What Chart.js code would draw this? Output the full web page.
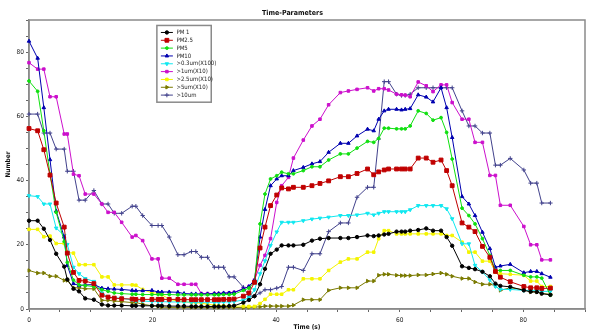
<!DOCTYPE html>
<html>
<head>
<meta charset="utf-8">
<script src="https://cdn.jsdelivr.net/npm/chart.js@4.4.1/dist/chart.umd.min.js"></script>
<style>
  html, body { margin: 0; padding: 0; background: #fff; }
  canvas { display: block; }
</style>
</head>
<body>
<canvas id="myChart" width="592" height="331"></canvas>
<script>
// sample times (s)
var times = [0, 1.4, 2.4, 3.4, 4.4, 5.7, 6.2, 7.2, 8.1, 9.1, 10.5, 11.8, 12.8, 13.8, 15.0, 16.7, 17.3, 18.4, 19.9, 20.9,
  21.5, 22.7, 24.1, 25.1, 26.3, 27.0, 27.9, 28.9, 30.0, 30.7, 31.5, 32.4, 33.2, 34.7, 35.6, 36.5, 37.4, 38.2, 39.1, 40.1,
  40.9, 42.0, 42.8, 44.4, 45.8, 47.1, 48.5, 50.4, 51.7, 53.1, 54.8, 55.8, 56.6, 57.5, 58.2, 59.5, 60.3, 60.9, 61.7, 63.0,
  64.3, 65.4, 66.7, 67.6, 68.5, 70.1, 71.2, 72.2, 73.4, 74.6, 75.5, 76.3, 77.9, 80.1, 81.2, 82.2, 83.0, 84.4];

var pm1 = [27.5, 27.5, 25.0, 21.5, 17.2, 13.2, 9.2, 6.3, 5.5, 3.3, 2.9, 1.4, 1.1, 1.1, 1.1, 1.0, 1.0, 1.0, 1.0, 1.0,
  1.0, 0.9, 0.9, 0.9, 0.8, 0.8, 0.8, 0.8, 0.8, 0.8, 0.8, 0.9, 1.0, 2.0, 2.8, 4.0, 7.7, 12.5, 17.2, 18.5,
  19.8, 19.8, 19.8, 20.0, 21.3, 21.9, 22.1, 22.1, 22.1, 22.4, 22.9, 22.7, 22.9, 23.2, 23.4, 24.1, 24.1, 24.1, 24.4, 24.6,
  25.1, 24.4, 24.4, 22.4, 19.7, 13.3, 12.8, 12.4, 11.6, 10.2, 7.9, 7.2, 6.9, 5.8, 5.4, 5.3, 4.8, 4.4];

var pm25 = [56.2, 55.5, 49.6, 41.7, 33.0, 25.5, 17.4, 11.4, 8.9, 8.7, 7.9, 4.3, 3.7, 3.4, 3.2, 3.1, 3.0, 3.0, 3.0, 3.0,
  3.0, 3.0, 3.0, 2.9, 2.9, 2.9, 2.9, 2.9, 2.9, 2.9, 3.0, 3.0, 3.1, 4.0, 5.0, 8.3, 19.0, 25.5, 32.2, 35.5,
  37.7, 37.4, 37.9, 37.9, 38.4, 39.1, 39.9, 41.2, 41.2, 42.2, 43.6, 41.8, 42.7, 43.3, 43.6, 43.6, 43.6, 43.6, 43.6, 47.0,
  47.0, 45.7, 46.4, 43.1, 38.4, 26.8, 25.5, 24.1, 19.5, 16.1, 11.7, 9.9, 8.5, 7.0, 6.6, 6.6, 6.4, 6.5];

var pm5 = [71.0, 67.8, 55.5, 42.0, 30.1, 21.0, 14.5, 9.0, 7.5, 7.3, 7.0, 6.0, 5.5, 5.0, 4.8, 4.6, 4.6, 4.5, 4.5, 4.5,
  4.5, 4.5, 4.4, 4.4, 4.4, 4.4, 4.4, 4.4, 4.4, 4.4, 4.5, 4.5, 4.6, 5.8, 6.5, 8.5, 26.5, 35.8, 40.5, 41.5,
  42.6, 42.1, 42.1, 43.1, 44.3, 44.3, 46.4, 48.3, 48.3, 50.1, 52.2, 51.9, 53.1, 56.3, 56.3, 56.1, 56.1, 56.1, 57.0, 61.7,
  60.9, 58.8, 59.6, 55.0, 46.7, 31.4, 29.1, 26.5, 21.9, 16.7, 12.0, 12.0, 12.0, 10.5, 10.0, 10.0, 9.6, 4.3];

var pm10 = [83.4, 78.1, 62.7, 46.5, 30.5, 22.4, 13.6, 7.9, 7.3, 7.5, 7.6, 6.5, 6.3, 6.2, 6.1, 5.8, 5.7, 5.7, 5.8, 5.3,
  5.3, 5.3, 5.2, 4.8, 4.7, 4.7, 4.7, 4.7, 4.8, 4.8, 5.0, 5.0, 5.1, 6.3, 7.0, 9.0, 22.4, 31.0, 38.4, 40.5,
  41.5, 41.5, 43.1, 44.1, 45.2, 45.9, 48.8, 51.6, 51.6, 53.9, 56.0, 55.5, 59.1, 61.7, 62.2, 62.2, 62.0, 62.2, 62.4, 66.7,
  66.0, 64.5, 68.9, 62.7, 53.4, 35.0, 32.7, 29.1, 23.9, 18.8, 13.0, 13.4, 13.9, 11.3, 11.7, 11.7, 11.0, 9.9];

var um03x100 = [35.3, 35.0, 32.7, 32.7, 25.2, 22.9, 20.1, 13.0, 11.0, 9.5, 8.6, 5.0, 3.7, 3.4, 3.4, 2.8, 2.5, 2.5, 2.3, 2.3,
  2.3, 2.2, 2.2, 2.2, 2.1, 2.1, 2.1, 2.1, 2.1, 2.1, 2.2, 2.2, 2.3, 2.8, 3.5, 6.0, 11.0, 15.0, 19.8, 24.0,
  27.0, 27.0, 27.0, 27.5, 28.0, 28.3, 28.6, 29.1, 29.1, 29.3, 29.8, 29.3, 29.8, 30.3, 30.3, 30.3, 30.3, 30.3, 30.9, 32.2,
  32.2, 32.2, 32.2, 31.2, 28.1, 20.3, 20.3, 13.6, 11.5, 9.0, 7.0, 6.1, 6.1, 5.8, 5.8, 5.8, 5.5, 5.5];

var um1x10 = [76.7, 74.7, 74.7, 66.1, 66.1, 54.5, 54.5, 42.0, 41.5, 35.8, 35.8, 32.7, 30.1, 30.1, 27.0, 22.4, 22.9, 21.3, 15.6, 15.6,
  9.6, 9.6, 7.7, 7.7, 7.7, 7.7, 4.8, 4.8, 4.8, 4.8, 4.8, 5.0, 5.2, 6.3, 7.0, 9.0, 13.6, 16.7, 21.9, 33.2,
  38.4, 41.0, 47.0, 52.6, 57.0, 59.1, 63.6, 67.4, 67.9, 68.4, 68.9, 67.9, 68.6, 68.6, 68.2, 66.9, 66.7, 66.6, 66.1, 70.7,
  69.5, 67.7, 69.8, 69.8, 64.3, 59.1, 59.1, 51.9, 51.9, 41.6, 41.6, 32.3, 32.3, 25.7, 20.0, 20.0, 15.3, 15.3];

var um25x10 = [24.8, 24.8, 22.5, 22.7, 20.4, 20.4, 17.6, 17.4, 13.8, 13.8, 13.8, 10.0, 10.0, 7.5, 7.5, 7.5, 7.4, 6.1, 5.0, 5.0,
  4.5, 3.0, 2.5, 2.3, 2.0, 2.0, 1.8, 1.5, 1.2, 1.0, 1.0, 0.9, 0.9, 0.9, 0.8, 0.8, 1.7, 3.0, 4.6, 4.6,
  4.6, 6.0, 6.0, 9.4, 9.4, 9.4, 12.0, 14.6, 15.6, 15.6, 17.7, 17.7, 21.9, 24.4, 24.4, 23.4, 23.4, 23.4, 23.4, 23.4,
  23.4, 23.4, 23.4, 22.9, 22.9, 20.8, 17.7, 17.7, 14.9, 14.9, 11.5, 11.0, 10.8, 10.5, 8.7, 8.7, 7.0, 7.0];

var um5x10 = [12.0, 11.2, 11.2, 10.2, 10.2, 8.9, 8.9, 6.6, 6.6, 6.3, 6.3, 2.7, 2.7, 2.5, 2.3, 2.0, 2.0, 1.5, 1.0, 0.8,
  0.6, 0.5, 0.5, 0.5, 0.5, 0.5, 0.5, 0.5, 0.5, 0.5, 0.5, 0.5, 0.5, 0.4, 0.5, 0.6, 0.7, 0.9, 0.9, 0.9,
  0.9, 0.9, 1.2, 2.9, 2.9, 2.9, 5.8, 6.6, 6.6, 6.6, 8.7, 8.7, 10.5, 10.8, 10.8, 10.5, 10.4, 10.4, 10.4, 10.6,
  10.6, 10.9, 11.2, 10.8, 10.2, 9.5, 9.5, 8.4, 7.7, 7.7, 7.3, 5.8, 6.6, 6.0, 5.3, 5.3, 4.8, 4.6];

var um10 = [60.7, 60.7, 54.8, 54.8, 49.8, 49.8, 42.9, 42.9, 33.9, 33.9, 36.9, 32.7, 32.7, 29.8, 29.8, 32.0, 32.0, 29.1, 26.0, 26.0,
  26.0, 22.4, 16.9, 16.9, 17.9, 17.9, 16.1, 16.1, 13.0, 13.0, 13.0, 10.0, 10.0, 6.8, 4.0, 4.0, 5.0, 6.0, 6.0, 6.5,
  7.0, 13.0, 13.0, 12.0, 17.2, 17.2, 24.1, 26.8, 26.8, 34.8, 37.9, 37.9, 52.9, 70.8, 70.8, 66.9, 66.5, 66.5, 66.9, 68.9,
  68.9, 68.9, 68.9, 68.9, 68.9, 61.7, 57.0, 57.0, 54.8, 54.8, 44.8, 44.8, 46.9, 43.3, 39.2, 39.2, 33.0, 33.0];

var seriesNames = ['PM 1', 'PM2.5', 'PM5', 'PM10', '>0.3um(X100)', '>1um(X10)', '>2.5um(X10)', '>5um(X10)', '>10um'];
var seriesValues = [pm1, pm25, pm5, pm10, um03x100, um1x10, um25x10, um5x10, um10];
var xTickLabels = [0, 20, 40, 60, 80];
var yTickLabels = [0, 20, 40, 60, 80];

var seriesStyles = [
  { color: '#000000', point: 'circle', radius: 1.7, rotation: 0 },
  { color: '#c00000', point: 'rect', radius: 2.7, rotation: 0 },
  { color: '#10e010', point: 'circle', radius: 1.4, rotation: 0 },
  { color: '#0000b0', point: 'triangle', radius: 2.0, rotation: 0 },
  { color: '#10e8f0', point: 'triangle', radius: 2.0, rotation: 180 },
  { color: '#cc10cc', point: 'rect', radius: 1.8, rotation: 0 },
  { color: '#f4f400', point: 'rect', radius: 1.8, rotation: 0 },
  { color: '#7a7a00', point: 'triangle', radius: 2.0, rotation: 90 },
  { color: '#42428c', point: 'cross', radius: 2.2, rotation: 0 }
];

var FONT = '"Liberation Sans Narrow", "DejaVu Sans Condensed", "Liberation Sans", sans-serif';

function toPoints(vals) {
  return times.map(function(t, i) { return { x: t, y: vals[i] }; });
}

var datasets = seriesNames.map(function(name, i) {
  var s = seriesStyles[i];
  return {
    label: name,
    data: toPoints(seriesValues[i]),
    borderColor: s.color,
    backgroundColor: s.color,
    borderWidth: 1,
    pointStyle: s.point,
    pointRadius: s.radius,
    pointRotation: s.rotation,
    pointBorderWidth: 1,
    pointBackgroundColor: s.color,
    pointBorderColor: s.color,
    tension: 0,
    clip: false
  };
});

// grey frame round the plot, drawn under the lines
var framePlugin = {
  id: 'frame',
  beforeDraw: function(chart) {
    var ctx = chart.ctx;
    ctx.save();
    ctx.fillStyle = '#fff';
    ctx.fillRect(0, 0, chart.width, chart.height);
    ctx.restore();
  },
  beforeDatasetsDraw: function(chart) {
    var a = chart.chartArea, ctx = chart.ctx;
    ctx.save();
    ctx.strokeStyle = '#8a8a8a';
    ctx.lineWidth = 1.5;
    ctx.strokeRect(a.left, a.top, a.right - a.left, a.bottom - a.top);
    ctx.restore();
  }
};

// boxed legend sitting inside the plot
var boxLegend = {
  id: 'boxLegend',
  afterDraw: function(chart) {
    var ctx = chart.ctx;
    var xs = chart.scales.x, ys = chart.scales.y;
    var left = xs.getPixelForValue(20.7), right = xs.getPixelForValue(29.5);
    var top = ys.getPixelForValue(88.3), bottom = ys.getPixelForValue(64.4);
    ctx.save();
    ctx.fillStyle = '#fff';
    ctx.fillRect(left, top, right - left, bottom - top);
    ctx.strokeStyle = '#8a8a8a';
    ctx.lineWidth = 1.5;
    ctx.strokeRect(left, top, right - left, bottom - top);
    ctx.font = '6px ' + FONT;
    ctx.textBaseline = 'middle';
    chart.data.datasets.forEach(function(ds, i) {
      var y = top + 7 + i * 7.83;
      ctx.strokeStyle = ds.borderColor;
      ctx.fillStyle = ds.borderColor;
      ctx.lineWidth = 1;
      ctx.beginPath();
      ctx.moveTo(left + 4, y);
      ctx.lineTo(left + 16, y);
      ctx.stroke();
      Chart.helpers.drawPoint(ctx, {
        pointStyle: ds.pointStyle, rotation: ds.pointRotation,
        radius: ds.pointRadius, borderWidth: 1
      }, left + 10, y);
      ctx.fillStyle = '#222';
      ctx.fillText(ds.label, left + 19.5, y);
    });
    ctx.restore();
  }
};

var ctx = document.getElementById('myChart').getContext('2d');
var chart = new Chart(ctx, {
  type: 'line',
  data: { datasets: datasets },
  plugins: [framePlugin, boxLegend],
  options: {
    responsive: false,
    animation: false,
    devicePixelRatio: 1,
    layout: { padding: { left: 0, right: 7, top: 0, bottom: 0 } },
    plugins: {
      legend: { display: false },
      tooltip: { enabled: false },
      title: {
        display: true,
        text: 'Time-Parameters',
        color: '#111',
        font: { size: 7, weight: 'bold', family: FONT },
        padding: { top: 9, bottom: 2.6 }
      }
    },
    scales: {
      x: {
        type: 'linear',
        min: 0,
        max: 90,
        afterFit: function(s) { s.height = 22; },
        ticks: {
          stepSize: 5,
          autoSkip: false,
          maxRotation: 0,
          padding: 4,
          color: '#222',
          font: { size: 6.5, family: FONT },
          callback: function(v) { return xTickLabels.indexOf(v) >= 0 ? String(v) : ''; }
        },
        grid: { drawOnChartArea: false, drawTicks: true, tickLength: 3, tickColor: '#666' },
        border: { display: true, color: '#8a8a8a', width: 1.5 },
        title: {
          display: true,
          text: 'Time (s)',
          color: '#111',
          font: { size: 6.5, weight: 'bold', family: FONT },
          padding: { top: 0, bottom: 0 }
        }
      },
      y: {
        min: 0,
        max: 90,
        afterFit: function(s) { s.width = 29; },
        ticks: {
          stepSize: 5,
          autoSkip: false,
          padding: 2,
          color: '#222',
          font: { size: 6.5, family: FONT },
          callback: function(v) { return yTickLabels.indexOf(v) >= 0 ? String(v) : ''; }
        },
        grid: { drawOnChartArea: false, drawTicks: true, tickLength: 3, tickColor: '#666' },
        border: { display: true, color: '#8a8a8a', width: 1.5 },
        title: {
          display: true,
          text: 'Number',
          color: '#111',
          font: { size: 6.5, weight: 'bold', family: FONT },
          padding: { top: 4, bottom: 0 }
        }
      }
    }
  }
});
</script>
</body>
</html>
